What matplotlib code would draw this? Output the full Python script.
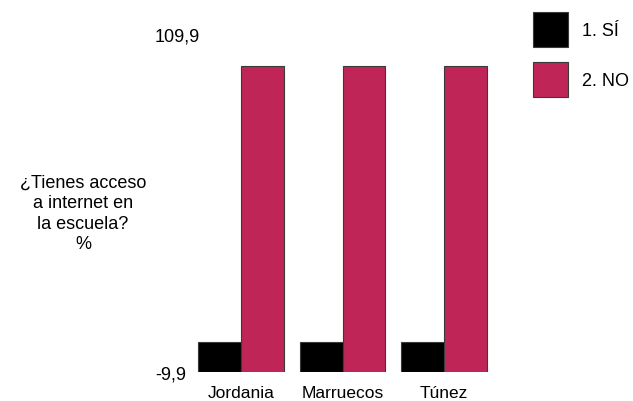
import matplotlib
matplotlib.use("Agg")
import matplotlib.pyplot as plt
from matplotlib.patches import Patch

plt.rcParams['font.family'] = ['Liberation Sans', 'DejaVu Sans']

categories = ["Jordania", "Marruecos", "Túnez"]
series_names = ["1. SÍ", "2. NO"]
si_values = [0.7, 0.7, 0.7]
no_values = [98.7, 98.7, 98.7]
y_min, y_max = -9.9, 109.9
ytick_labels = ["-9,9", "109,9"]
ylabel = "¿Tienes acceso\na internet en\nla escuela?\n%"

colors = ["#000000", "#BF2557"]
edge = "#3a3a3a"

W, H = 633, 402
fig = plt.figure(figsize=(W / 100, H / 100), dpi=100)

# axes placement in pixels
spacing = 101.5
center0 = 241.0
left_px = center0 - spacing / 2
width_px = spacing * 3
bottom_px = H - 372.7
top_px = H - 35.0
ax = fig.add_axes([left_px / W, bottom_px / H, width_px / W, (top_px - bottom_px) / H])

x = list(range(len(categories)))
bw = 0.42
ax.bar([i - bw / 2 for i in x], [v - y_min for v in si_values], bottom=y_min, width=bw,
       color=colors[0], edgecolor=edge, linewidth=0.8, label=series_names[0])
ax.bar([i + bw / 2 for i in x], [v - y_min for v in no_values], bottom=y_min, width=bw,
       color=colors[1], edgecolor=edge, linewidth=0.8, label=series_names[1])

ax.set_xlim(-0.5, 2.5)
ax.set_ylim(y_min, y_max)
for s in ax.spines.values():
    s.set_visible(False)

ax.set_xticks(x)
ax.set_xticklabels(categories, fontsize=12.5)
ax.tick_params(axis='x', length=0, pad=9.5)
ax.set_yticks([y_min, y_max])
ax.set_yticklabels(ytick_labels, fontsize=13, ha='left')
ax.tick_params(axis='y', length=0, pad=(left_px - 155) * 72 / 100)

fig.text(83 / W, 1 - 214 / H, ylabel, ha='center', va='center', fontsize=13,
         multialignment='center', linespacing=1.28)

handles = [Patch(facecolor=colors[0], edgecolor=edge, linewidth=0.8),
           Patch(facecolor=colors[1], edgecolor=edge, linewidth=0.8)]
fig.legend(handles, series_names, loc='upper left',
           bbox_to_anchor=(532.7 / W, 1 - 12.7 / H), bbox_transform=fig.transFigure,
           frameon=False, fontsize=13, borderpad=0, borderaxespad=0,
           handlelength=1.94, handleheight=2.6, handletextpad=0.78, labelspacing=0.85)

fig.savefig("out.png", dpi=100)
